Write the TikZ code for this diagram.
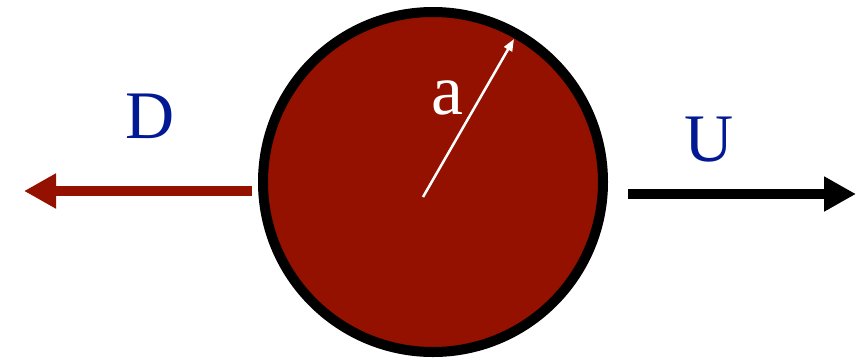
\documentclass[tikz,border=0pt]{standalone}
\usepackage{fontspec}
\setmainfont{Liberation Serif}
\usepackage{tikz}
\usetikzlibrary{arrows.meta, positioning, calc}
\definecolor{cayenne}{RGB}{148,17,0}
\definecolor{midnight}{RGB}{1,25,147}

\begin{document}
\begin{tikzpicture}[x=1pt, y=-1pt,
    bigarrow/.style={line width=10.5pt, -{Triangle[length=32pt,width=33pt]}},
    letter/.style={font=\fontsize{68}{68}\selectfont, inner sep=0pt}]
  \useasboundingbox (0,0) rectangle (867,360);
  % sphere
  \node[circle, draw=black, fill=cayenne, line width=10pt, minimum size=340pt, inner sep=0pt] (sphere) at (433,182) {};
  % radius
  \coordinate (rstart) at (423,197);
  \coordinate (rend) at (514,39);
  \draw[white, line width=2.5pt, -{Triangle[length=12pt,width=9pt]}] (rstart) -- (rend);
  \node[letter, white, font=\fontsize{72}{72}\selectfont] (rlabel) at (447,98) {a};
  % drag and velocity
  \coordinate (dstart) at (252,191);
  \coordinate (dend) at (24,191);
  \coordinate (ustart) at (628,194);
  \coordinate (uend) at (856,194);
  \draw[bigarrow, cayenne] (dstart) -- (dend);
  \draw[bigarrow, black] (ustart) -- (uend);
  \node[letter, midnight] (dlabel) at (150,116) {D};
  \node[letter, midnight] (ulabel) at (709,140) {U};
\end{tikzpicture}
\end{document}
